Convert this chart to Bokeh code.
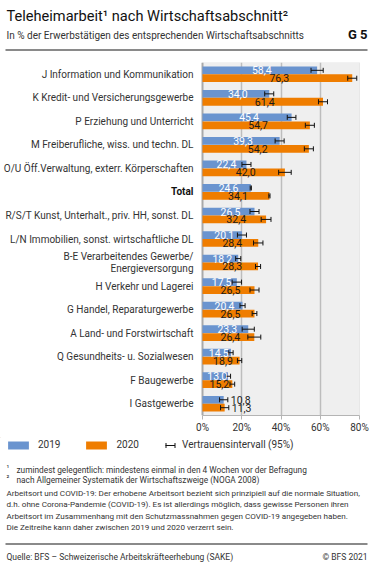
import math
from bokeh.plotting import figure
from bokeh.models import (ColumnDataSource, Range1d, FixedTicker, PrintfTickFormatter,
                          Legend, LegendItem, Span, BoxAnnotation)
from bokeh.transform import dodge
from bokeh.layouts import column
from bokeh.core.properties import value
from bokeh.embed import file_html
from bokeh.resources import INLINE

# ---------------- data ----------------
categories = [
    "J Information und Kommunikation",
    "K Kredit- und Versicherungsgewerbe",
    "P Erziehung und Unterricht",
    "M Freiberufliche, wiss. und techn. DL",
    "O/U Öff.Verwaltung, exterr. Körperschaften",
    "Total",
    "R/S/T Kunst, Unterhalt., priv. HH, sonst. DL",
    "L/N Immobilien, sonst. wirtschaftliche DL",
    "B-E Verarbeitendes Gewerbe/\nEnergieversorgung",
    "H Verkehr und Lagerei",
    "G Handel, Reparaturgewerbe",
    "A Land- und Forstwirtschaft",
    "Q Gesundheits- u. Sozialwesen",
    "F Baugewerbe",
    "I Gastgewerbe",
]
v2019 = [58.4, 34.0, 45.4, 39.3, 22.4, 24.6, 26.5, 20.1, 18.2, 17.5, 20.4, 23.3, 14.5, 13.0, 10.8]
v2020 = [76.3, 61.4, 54.7, 54.2, 42.0, 34.1, 32.4, 28.4, 28.3, 26.5, 26.5, 26.4, 18.9, 15.2, 11.3]
ci2019 = [3.1, 2.3, 2.2, 2.3, 2.3, 0.3, 2.3, 2.3, 1.3, 2.4, 1.3, 3.1, 1.1, 1.3, 2.1]
ci2020 = [2.3, 2.3, 2.3, 2.3, 3.2, 0.3, 2.5, 2.4, 1.3, 2.3, 1.2, 3.3, 1.1, 1.2, 2.1]
x_ticks = [0, 20, 40, 60, 80]
series_names = ["2019", "2020"]
ci_label = "Vertrauensintervall (95%)"
bold_category = "Total"

title_text = "Teleheimarbeit¹ nach Wirtschaftsabschnitt²"
subtitle_text = "In % der Erwerbstätigen des entsprechenden Wirtschaftsabschnitts"
chart_no = "G 5"
footnote_marks = ["¹", "²"]
footnotes = [
    "zumindest gelegentlich: mindestens einmal in den 4 Wochen vor der Befragung",
    "nach Allgemeiner Systematik der Wirtschaftszweige (NOGA 2008)",
]
remark_lines = [
    "Arbeitsort und COVID-19: Der erhobene Arbeitsort bezieht sich prinzipiell auf die normale Situation,",
    "d.h. ohne Corona-Pandemie (COVID-19). Es ist allerdings möglich, dass gewisse Personen ihren",
    "Arbeitsort im Zusammenhang mit den Schutzmassnahmen gegen COVID-19 angegeben haben.",
    "Die Zeitreihe kann daher zwischen 2019 und 2020 verzerrt sein.",
]
source_text = "Quelle: BFS – Schweizerische Arbeitskräfteerhebung (SAKE)"
copyright_text = "© BFS 2021"

# ---------------- style ----------------
FONT = "Roboto"
BLUE = "#6a94cf"
ORANGE = "#ef7d00"
TXT = "#333333"
RULE = "#8a8a8a"
W = 376
AX0_PX = 202      # where 0 % sits (px from left)
AX80_PX = 359     # where 80 % sits
PPU = (AX80_PX - AX0_PX) / 80.0
X_START = -AX0_PX / PPU
X_END = (W - AX0_PX) / PPU
OFF = -1000       # off-canvas anchor for legend-only sample glyphs


def blank_fig(h):
    f = figure(width=W, height=h, x_range=Range1d(0, W), y_range=Range1d(h, 0),
               toolbar_location=None, output_backend="svg",
               x_axis_location=None, y_axis_location=None,
               min_border=0, min_border_left=0, min_border_right=0,
               min_border_top=0, min_border_bottom=0, outline_line_color=None)
    f.grid.visible = False
    return f


# ---------------- header ----------------
HH = 54
hdr = blank_fig(HH)
hdr.text(x=[6], y=[15], text=[title_text], text_font=value(FONT), text_font_size="14.6px",
         text_color="#111111", text_baseline="middle", text_align="left")
hdr.text(x=[6], y=[35], text=[subtitle_text], text_font=value(FONT), text_font_size="10px",
         text_color=TXT, text_baseline="middle", text_align="left")
hdr.text(x=[367], y=[34], text=[chart_no], text_font=value(FONT), text_font_size="13px",
         text_font_style="bold", text_color="#111111", text_baseline="middle", text_align="right")
hdr.segment(x0=[5], x1=[367], y0=[49.5], y1=[49.5], line_color=RULE, line_width=2)

# ---------------- main chart ----------------
n = len(categories)
idx = list(range(n))
DY = 0.168
BH = 0.33

src = ColumnDataSource(dict(
    idx=idx,
    v19=v2019, v20=v2020,
    lo19=[v - c for v, c in zip(v2019, ci2019)], hi19=[v + c for v, c in zip(v2019, ci2019)],
    lo20=[v - c for v, c in zip(v2020, ci2020)], hi20=[v + c for v, c in zip(v2020, ci2020)],
))

p = figure(width=W, height=383, x_range=Range1d(X_START, X_END), y_range=Range1d(n - 0.5, -0.5),
           toolbar_location=None, output_backend="svg", y_axis_location=None,
           min_border_left=0, min_border_right=0, min_border_top=8, min_border_bottom=22,
           background_fill_color="white", border_fill_color="white", outline_line_color=None)

# plot area (0..80 %)
p.add_layout(BoxAnnotation(left=0, right=80, fill_color="#efefef", fill_alpha=1,
                           line_color="#c4c4c4", line_width=1, level="image"))
p.add_layout(Span(location=0, dimension="height", line_color="#a9a9a9", line_width=2,
                  level="underlay"))

p.hbar(y=dodge("idx", -DY), left=0, right="v19", height=BH, source=src,
       fill_color=BLUE, line_color=None)
p.hbar(y=dodge("idx", DY), left=0, right="v20", height=BH, source=src,
       fill_color=ORANGE, line_color=None)

p.segment(x0="lo19", x1="hi19", y0=dodge("idx", -DY), y1=dodge("idx", -DY), source=src,
          line_color="#111111", line_width=1)
p.segment(x0="lo20", x1="hi20", y0=dodge("idx", DY), y1=dodge("idx", DY), source=src,
          line_color="#111111", line_width=1)
caps = ColumnDataSource(dict(
    x=([v - c for v, c in zip(v2019, ci2019)] + [v + c for v, c in zip(v2019, ci2019)] +
       [v - c for v, c in zip(v2020, ci2020)] + [v + c for v, c in zip(v2020, ci2020)]),
    y=[i - DY for i in idx] * 2 + [i + DY for i in idx] * 2,
))
p.scatter(x="x", y="y", source=caps, marker="dash", angle=math.pi / 2, size=5,
          line_color="#111111", line_width=1)

# value labels
lx, ly, lt, la, lc = [], [], [], [], []
for vals, cis, off, col in ((v2019, ci2019, -DY, "white"), (v2020, ci2020, DY, "#1a1a1a")):
    for i, (v, c) in enumerate(zip(vals, cis)):
        txt = f"{v:.1f}".replace(".", ",")
        if v < 12:
            lx.append(v + c + 1.5); la.append("left"); lc.append("#1a1a1a")
        else:
            lx.append(v / 2 + 1); la.append("center"); lc.append(col)
        ly.append(i + off); lt.append(txt)
lab_src = ColumnDataSource(dict(x=lx, y=ly, text=lt, align=la, color=lc))
p.text(x="x", y="y", text="text", source=lab_src, text_align="align", text_color="color",
       text_baseline="middle", text_font=value(FONT), text_font_size="10.5px")

# category labels (left of the value axis)
norm_i = [i for i, c in enumerate(categories) if c != bold_category]
bold_i = [i for i, c in enumerate(categories) if c == bold_category]
p.text(x=[0] * len(norm_i), y=norm_i, text=[categories[i] for i in norm_i], x_offset=-9,
       text_align="right", text_baseline="middle", text_font=value(FONT),
       text_font_size="10px", text_color=TXT, text_line_height=1.1)
p.text(x=[0] * len(bold_i), y=bold_i, text=[categories[i] for i in bold_i], x_offset=-9,
       text_align="right", text_baseline="middle", text_font=value(FONT),
       text_font_size="10px", text_font_style="bold", text_color="#111111")

# x axis
p.xaxis.ticker = FixedTicker(ticks=x_ticks)
p.xaxis.bounds = (x_ticks[0], x_ticks[-1])
p.xaxis.formatter = PrintfTickFormatter(format="%d%%")
p.xaxis.axis_line_color = "#b4b4b4"
p.xaxis.major_tick_line_color = "#b4b4b4"
p.xaxis.major_tick_out = 4
p.xaxis.major_tick_in = 0
p.xaxis.minor_tick_line_color = None
p.xaxis.major_label_standoff = 2
p.xaxis.major_label_text_font = FONT
p.xaxis.major_label_text_font_size = "10px"
p.xaxis.major_label_text_color = TXT

p.ygrid.visible = False
p.xgrid.ticker = FixedTicker(ticks=x_ticks[1:-1])
p.xgrid.grid_line_color = "#bdbdbd"
p.xgrid.grid_line_width = 1.5

# ---------------- footer (legend + notes) ----------------
FH = 134
ftr = blank_fig(FH)
# legend samples: same styles as the chart's glyphs, anchored off-canvas
lg19 = ftr.hbar(y=[OFF], right=[OFF], left=OFF - 1, height=1, fill_color=BLUE, line_color=None)
lg20 = ftr.hbar(y=[OFF], right=[OFF], left=OFF - 1, height=1, fill_color=ORANGE, line_color=None)
lg_ci = ftr.segment(x0=[OFF], x1=[OFF - 1], y0=[OFF], y1=[OFF], line_color="#111111",
                    line_width=1)
LEG_TOP = 3
leg_common = dict(orientation="horizontal", glyph_height=10, label_height=10,
                  label_text_font=FONT, label_text_font_size="10px", label_text_color=TXT,
                  label_standoff=7, padding=0, margin=0, border_line_color=None,
                  background_fill_alpha=0)
legA = Legend(items=[LegendItem(label=series_names[0], renderers=[lg19]),
                     LegendItem(label=series_names[1], renderers=[lg20])],
              location=(5, FH - LEG_TOP - 10), glyph_width=26, spacing=23, **leg_common)
legB = Legend(items=[LegendItem(label=ci_label, renderers=[lg_ci])],
              location=(165, FH - LEG_TOP - 10), glyph_width=10, **leg_common)
ftr.add_layout(legA)
ftr.add_layout(legB)
# end caps of the confidence-interval legend symbol
ftr.segment(x0=[165.5, 174.5], x1=[165.5, 174.5], y0=[LEG_TOP + 2.5] * 2, y1=[LEG_TOP + 7.5] * 2,
            line_color="#111111", line_width=1)

ftr.text(x=[6, 6], y=[30, 40], text=footnote_marks, text_font=value(FONT), text_font_size="7.5px",
         text_color=TXT, text_baseline="middle")
ftr.text(x=[16, 16], y=[32, 42], text=footnotes, text_font=value(FONT), text_font_size="8.3px",
         text_color=TXT, text_baseline="middle")
ftr.text(x=[6] * len(remark_lines), y=[55.7, 66.3, 78, 89.7], text=remark_lines,
         text_font=value(FONT), text_font_size="8.1px", text_color=TXT, text_baseline="middle")
ftr.segment(x0=[5], x1=[367], y0=[106.5], y1=[106.5], line_color=RULE, line_width=2)
ftr.text(x=[6], y=[119.7], text=[source_text], text_font=value(FONT), text_font_size="8.5px",
         text_color=TXT, text_baseline="middle")
ftr.text(x=[367], y=[119.7], text=[copyright_text], text_font=value(FONT), text_font_size="8.5px",
         text_color=TXT, text_baseline="middle", text_align="right")

layout = column(hdr, p, ftr, spacing=0)
open("out.html", "w").write(file_html(layout, INLINE))
